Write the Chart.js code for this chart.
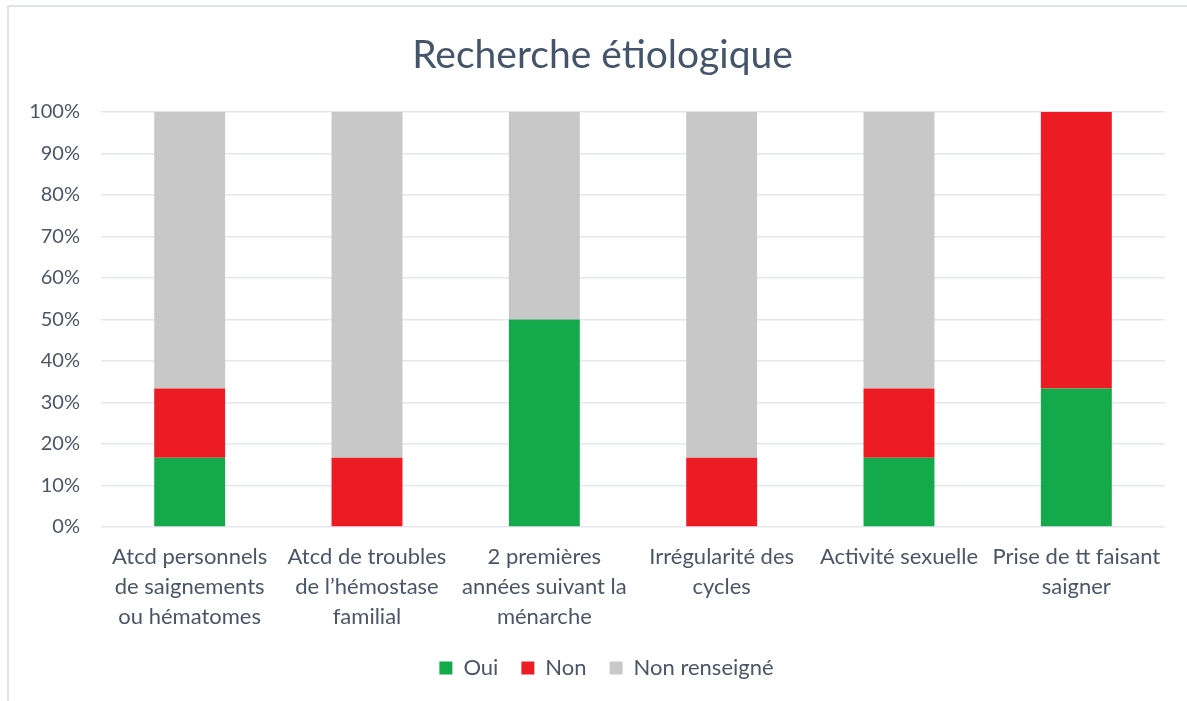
<!DOCTYPE html>
<html>
<head>
<meta charset="utf-8">
<script src="https://cdn.jsdelivr.net/npm/chart.js@4.4.1/dist/chart.umd.min.js"></script>
<style>
html,body{margin:0;padding:0;background:#fff;}
#wrap{position:relative;width:1187px;height:701px;overflow:hidden;}
#frame{position:absolute;left:7px;top:5px;width:1300px;height:800px;border-top:2px solid #dfe4ec;border-left:2px solid #dfe4ec;}
canvas{position:absolute;left:0;top:0;}
</style>
</head>
<body>
<div id="wrap">
<div id="frame"></div>
<canvas id="c" width="1187" height="701"></canvas>
</div>
<script>
const categories = [
  ["Atcd personnels", "de saignements", "ou hématomes"],
  ["Atcd de troubles", "de l\u2019hémostase", "familial"],
  ["2 premières", "années suivant la", "ménarche"],
  ["Irrégularité des", "cycles"],
  ["Activité sexuelle"],
  ["Prise de tt faisant", "saigner"]
];
const oui = [16.67, 0, 50, 0, 16.67, 33.33];
const non = [16.67, 16.67, 0, 16.67, 16.67, 66.67];
const nonRenseigne = [66.67, 83.33, 50, 83.33, 66.67, 0];
const yTicks = [0,10,20,30,40,50,60,70,80,90,100];

const FONT = "Lato, 'Open Sans', sans-serif";
const TXT = "#4b5568";

const boxShift = {
  id: 'boxShift',
  beforeDraw(chart) {
    const lg = chart.legend;
    if (lg && !lg._shifted) { lg.left += 24; lg.right += 24; lg._shifted = true; }
    const tt = chart.titleBlock;
    if (tt && !tt._shifted) { tt.left += 20; tt.right += 20; tt._shifted = true; }
  }
};

new Chart(document.getElementById('c'), {
  type: 'bar',
  plugins: [boxShift],
  data: {
    labels: categories,
    datasets: [
      {label: 'Oui', data: oui, backgroundColor: '#14a94b'},
      {label: 'Non', data: non, backgroundColor: '#ed1c24'},
      {label: 'Non renseigné', data: nonRenseigne, backgroundColor: '#c8c8c8'}
    ]
  },
  options: {
    responsive: false,
    animation: false,
    layout: {padding: {top: 26, right: 22, bottom: 12, left: 0}},
    datasets: {bar: {categoryPercentage: 1, barPercentage: 0.4}},
    plugins: {
      title: {
        display: true,
        text: 'Recherche étiologique',
        color: '#44546a',
        font: {family: FONT, size: 39, weight: 'normal'},
        padding: {top: 6, bottom: 33}
      },
      legend: {
        position: 'bottom',
        labels: {
          color: TXT,
          font: {family: FONT, size: 22},
          boxWidth: 13, boxHeight: 13,
          padding: 23
        }
      },
      tooltip: {enabled: false}
    },
    scales: {
      x: {
        stacked: true,
        grid: {display: false},
        border: {display: false},
        ticks: {color: TXT, font: {family: FONT, size: 22, lineHeight: 1.36}, maxRotation: 0, autoSkip: false, padding: 7},
        afterFit: s => { s.height = 107; }
      },
      y: {
        stacked: true,
        min: 0, max: 100,
        afterBuildTicks: s => { s.ticks = yTicks.map(v => ({value: v})); },
        grid: {color: '#e3e7ee', lineWidth: 1.5, drawTicks: false},
        border: {display: false},
        ticks: {color: TXT, font: {family: FONT, size: 20}, padding: 21, callback: v => v + '%'},
        afterFit: s => { s.width = 101; }
      }
    }
  }
});
</script>
</body>
</html>
